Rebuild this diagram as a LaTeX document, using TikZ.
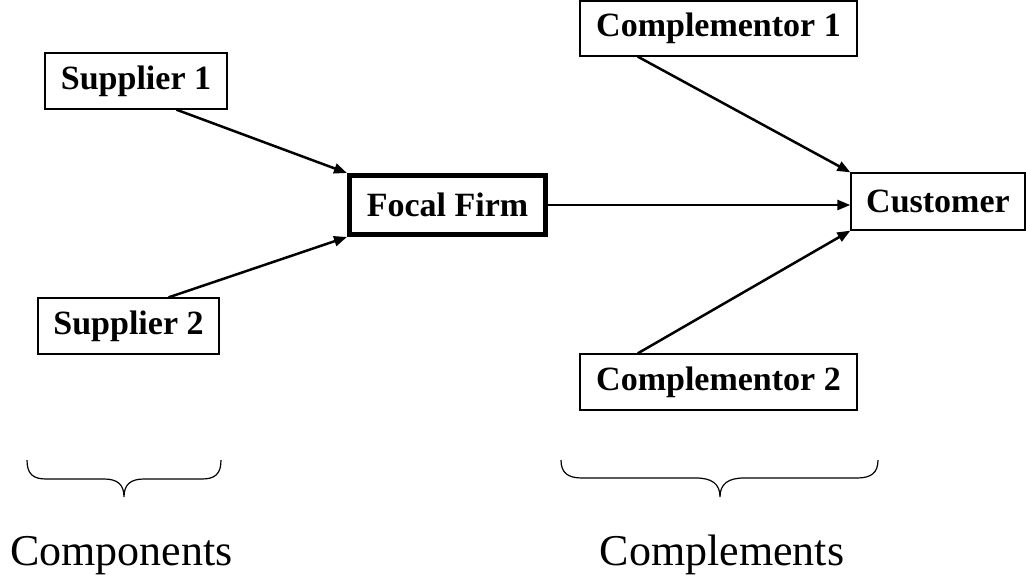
\documentclass[tikz,border=0pt]{standalone}
\usepackage{fontspec}
\setmainfont{Liberation Serif}
\usetikzlibrary{arrows.meta,calc}
\begin{document}
\begin{tikzpicture}[x=1pt,y=1pt,
  box/.style={draw=black,line width=1.3pt,rectangle,inner sep=0pt,
    font=\fontsize{34}{40}\selectfont\bfseries},
  focal/.style={box,line width=5pt},
  conn/.style={line width=2.5pt,-{Triangle[length=13pt,width=10pt]}},
  brc/.style={line width=1.2pt},
  lbl/.style={anchor=base,inner sep=0pt,font=\fontsize{44}{50}\selectfont}]
\useasboundingbox (0,0) rectangle (1026,-575);
\node[box,minimum width=182pt,minimum height=56pt] (s1) at (136,-81) {Supplier 1};
\node[box,minimum width=181pt,minimum height=56pt] (s2) at (128.5,-326) {Supplier 2};
\node[focal,minimum width=196pt,minimum height=59pt] (ff) at (447.5,-205) {Focal Firm};
\node[box,minimum width=174pt,minimum height=57pt] (cu) at (938,-201.5) {Customer};
\node[box,minimum width=277pt,minimum height=55pt] (c1) at (718.5,-28.5) {Complementor 1};
\node[box,minimum width=277pt,minimum height=56pt] (c2) at (718.5,-382) {Complementor 2};
\coordinate (s1out) at ($(s1.south west)!0.72!(s1.south east)$);
\coordinate (s2out) at ($(s2.north west)!0.72!(s2.north east)$);
\coordinate (c1out) at ($(c1.south west)!0.21!(c1.south east)$);
\coordinate (c2out) at ($(c2.north west)!0.21!(c2.north east)$);
\draw[conn] (s1out) -- (ff.north west);
\draw[conn] (s2out) -- (ff.south west);
\draw[conn] (ff.east) -- (ff.east -| cu.west);
\draw[conn] (c1out) -- (cu.north west);
\draw[conn] (c2out) -- (cu.south west);
% braces
\coordinate (lb) at (124,-497);
\coordinate (rb) at (720,-497);
\draw[brc] (27,-460) .. controls (27,-474) and (33,-479) .. (46,-479) -- (104,-479)
  .. controls (118,-479) and (124,-485) .. (lb)
  .. controls (124,-485) and (130,-479) .. (144,-479) -- (202,-479)
  .. controls (215,-479) and (221,-474) .. (221,-460);
\draw[brc] (561,-460) .. controls (561,-473) and (568,-478) .. (582,-478) -- (696,-478)
  .. controls (712,-478) and (720,-484) .. (rb)
  .. controls (720,-484) and (728,-478) .. (744,-478) -- (857,-478)
  .. controls (871,-478) and (878,-473) .. (878,-460);
\node[lbl] (comp) at (121.5,-565) {Components};
\node[lbl] (cmpl) at (722,-565) {Complements};
\end{tikzpicture}
\end{document}
